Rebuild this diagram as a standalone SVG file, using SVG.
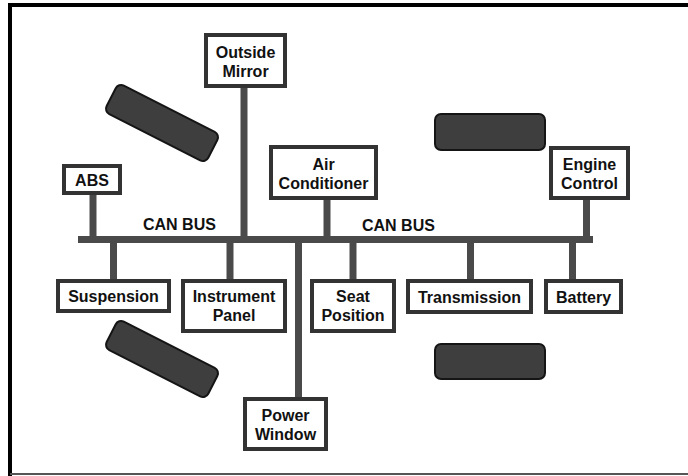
<svg xmlns="http://www.w3.org/2000/svg" width="688" height="476" viewBox="0 0 688 476">
<style>
.box{fill:#fff;stroke:#333;stroke-width:4}
.t{font-family:"Liberation Sans",Arial,sans-serif;font-weight:bold;font-size:16px;fill:#111;text-anchor:middle}
.bus{font-family:"Liberation Sans",Arial,sans-serif;font-weight:bold;font-size:16px;fill:#111}
.wire{stroke:#4a4a4a;stroke-width:7;fill:none}
.blob{fill:#3e3e3e;stroke:#151515;stroke-width:2}
</style>
<rect width="688" height="476" fill="#fff"/>
<g id="frame" fill="none">
<line x1="10" y1="3" x2="10" y2="476" stroke="#000" stroke-width="4"/>
<line x1="8" y1="5" x2="688" y2="5" stroke="#000" stroke-width="4"/>
<line x1="10" y1="474" x2="688" y2="474" stroke="#555" stroke-width="2"/>
</g>
<g id="decor">
<rect class="blob" x="-57" y="-16" width="114" height="32" rx="6" transform="translate(162 123) rotate(27)"/>
<rect class="blob" x="-57" y="-16" width="114" height="32" rx="6" transform="translate(162 359) rotate(27)"/>
<rect class="blob" x="435" y="114" width="110" height="36" rx="6"/>
<rect class="blob" x="435" y="344" width="110" height="35" rx="6"/>
</g>
<g id="connectors">
<line class="wire" x1="78" y1="239.5" x2="593" y2="239.5"/>
<line class="wire" x1="93" y1="195" x2="93" y2="239"/>
<line class="wire" x1="244" y1="88" x2="244" y2="239"/>
<line class="wire" x1="327" y1="200" x2="327" y2="239"/>
<line class="wire" x1="586.5" y1="200" x2="586.5" y2="239"/>
<line class="wire" x1="113.5" y1="240" x2="113.5" y2="279"/>
<line class="wire" x1="230" y1="240" x2="230" y2="279"/>
<line class="wire" x1="298.5" y1="240" x2="298.5" y2="397"/>
<line class="wire" x1="353" y1="240" x2="353" y2="279"/>
<line class="wire" x1="470.5" y1="240" x2="470.5" y2="279"/>
<line class="wire" x1="572.5" y1="240" x2="572.5" y2="279"/>
</g>
<g id="labels">
<text class="bus" x="143" y="230">CAN BUS</text>
<text class="bus" x="362" y="231">CAN BUS</text>
</g>
<g id="abs"><rect class="box" x="64" y="166" width="56" height="27"/><text class="t" x="92" y="186">ABS</text></g>
<g id="outside-mirror"><rect class="box" x="206" y="35" width="79" height="51"/><text class="t" x="245.5" y="58">Outside</text><text class="t" x="245.5" y="77">Mirror</text></g>
<g id="air-conditioner"><rect class="box" x="271" y="147" width="105" height="51"/><text class="t" x="323.5" y="170">Air</text><text class="t" x="323.5" y="189">Conditioner</text></g>
<g id="engine-control"><rect class="box" x="551" y="148" width="77" height="50"/><text class="t" x="589.5" y="170">Engine</text><text class="t" x="589.5" y="189">Control</text></g>
<g id="suspension"><rect class="box" x="58" y="281" width="111" height="30"/><text class="t" x="113.5" y="302">Suspension</text></g>
<g id="instrument-panel"><rect class="box" x="183" y="281" width="102" height="50"/><text class="t" x="234" y="302">Instrument</text><text class="t" x="234" y="321">Panel</text></g>
<g id="seat-position"><rect class="box" x="312" y="281" width="82" height="50"/><text class="t" x="353" y="302">Seat</text><text class="t" x="353" y="321">Position</text></g>
<g id="transmission"><rect class="box" x="408" y="281" width="123" height="31"/><text class="t" x="469.5" y="303">Transmission</text></g>
<g id="battery"><rect class="box" x="546" y="281" width="75" height="31"/><text class="t" x="583.5" y="303">Battery</text></g>
<g id="power-window"><rect class="box" x="245" y="399" width="81" height="50"/><text class="t" x="285.5" y="421">Power</text><text class="t" x="285.5" y="440">Window</text></g>
</svg>
